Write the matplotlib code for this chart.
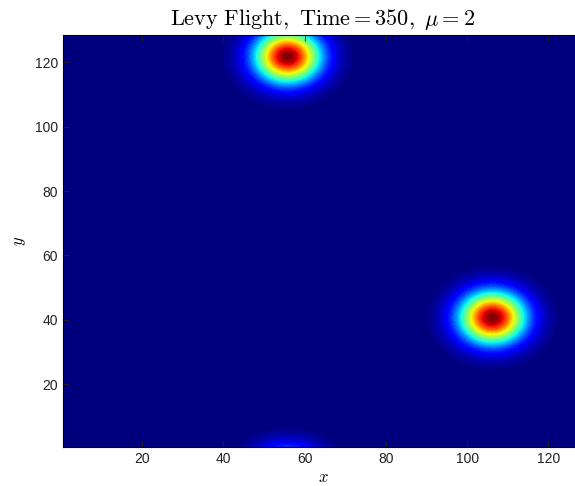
import numpy as np
import matplotlib
matplotlib.use("Agg")
import matplotlib.pyplot as plt

plt.rcParams['mathtext.fontset'] = 'cm'
plt.rcParams['font.family'] = ['Liberation Sans', 'DejaVu Sans']

# blob centres (x, y), widths and peak heights
blob_x = [55.8, 106.2]
blob_y = [121.5, 40.6]
blob_sigma = [5.5, 5.5]
blob_peak = [1.0, 1.0]
n = 128
wrap_period = 131  # faint copy of the top blob shows at the bottom edge

x = np.arange(1, n + 1)
X, Y = np.meshgrid(x, x)
P = np.zeros((n, n))
for cx, cy, s, a in zip(blob_x, blob_y, blob_sigma, blob_peak):
    dx = np.abs(X - cx); dx = np.minimum(dx, wrap_period - dx)
    dy = np.abs(Y - cy); dy = np.minimum(dy, wrap_period - dy)
    P += a * np.exp(-(dx**2 + dy**2) / (2 * s**2))

fig = plt.figure(figsize=(5.75, 4.86), dpi=100)
ax = fig.add_axes([63/575, 39/486, 520/575, 412/486])
ax.imshow(P, origin='lower', extent=(0.5, n + 0.5, 0.5, n + 0.5), aspect='auto',
          cmap=plt.get_cmap('jet', 64), interpolation='bilinear')
ax.set_xticks([20, 40, 60, 80, 100, 120])
ax.set_yticks([20, 40, 60, 80, 100, 120])
ax.tick_params(direction='in', length=4, top=True, right=True, labelsize=10, width=0.7,
               colors='#222222')
for sp in ax.spines.values():
    sp.set_linewidth(0.8)
ax.set_xlabel(r'$x$', fontsize=12, labelpad=3)
ax.set_ylabel(r'$y$', fontsize=12, labelpad=5)
ax.set_title(r'$\mathrm{Levy\ Flight,\ Time} = 350,\ \mu = 2$', fontsize=16, pad=7)
fig.savefig('out.png', dpi=100)
